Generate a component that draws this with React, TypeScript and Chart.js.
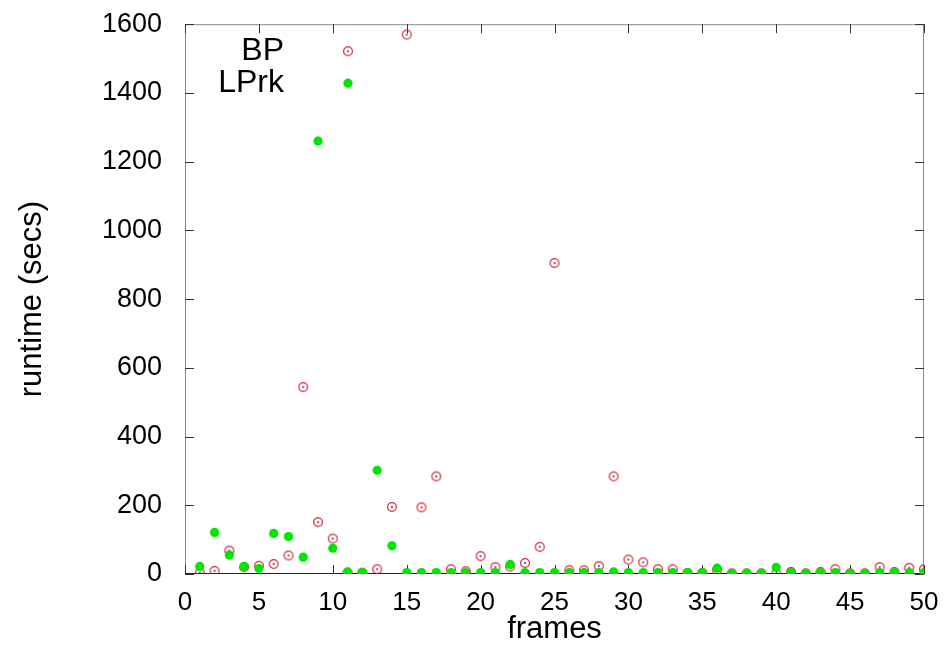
import React, { useEffect, useRef } from "react";
import { Chart, registerables } from "chart.js";

Chart.register(...registerables);

const frames: number[] = [
  1, 2, 3, 4, 5, 6, 7, 8, 9, 10, 11, 12, 13, 14, 15, 16, 17, 18, 19, 20, 21, 22, 23, 24, 25,
  26, 27, 28, 29, 30, 31, 32, 33, 34, 35, 36, 37, 38, 39, 40, 41, 42, 43, 44, 45, 46, 47, 48, 49, 50,
];

const bpRuntime: number[] = [
  4, 9, 68, 20, 24, 29, 54, 544, 151, 103, 4, 4, 14, 195, 1570, 194, 284, 14, 8, 52, 20, 22, 32, 79, 905,
  11, 11, 23, 284, 42, 34, 14, 14, 3, 3, 12, 2, 1, 2, 1, 6, 2, 6, 14, 2, 2, 20, 6, 18, 14,
];

const lprkRuntime: number[] = [
  22, 121, 55, 22, 16, 118, 109, 49, 1260, 75, 6, 4, 302, 82, 4, 4, 4, 4, 4, 4, 4, 28, 4, 4, 4,
  4, 4, 4, 6, 4, 4, 4, 4, 4, 4, 17, 1, 3, 2, 19, 4, 2, 4, 4, 2, 2, 4, 4, 4, 4,
];

const xTicks: number[] = [0, 5, 10, 15, 20, 25, 30, 35, 40, 45, 50];
const yTicks: number[] = [0, 200, 400, 600, 800, 1000, 1200, 1400, 1600];

const seriesNames: string[] = ["BP", "LPrk"];

const RED = "rgb(218,36,58)";
const GREEN = "rgb(0,230,0)";
const FONT = "'Liberation Sans', Arial, Helvetica, sans-serif";

function makeCircleDot(): HTMLCanvasElement {
  const c = document.createElement("canvas");
  c.width = 12;
  c.height = 12;
  const g = c.getContext("2d")!;
  g.strokeStyle = RED;
  g.lineWidth = 1.2;
  g.beginPath();
  g.arc(6, 6, 4.4, 0, Math.PI * 2);
  g.stroke();
  g.fillStyle = "rgb(120,15,25)";
  g.beginPath();
  g.arc(6, 6, 0.9, 0, Math.PI * 2);
  g.fill();
  return c;
}

export default function App() {
  const ref = useRef<HTMLCanvasElement | null>(null);

  useEffect(() => {
    if (!ref.current) return;
    const circleDot = makeCircleDot();

    const framePlugin = {
      id: "gnuplotFrame",
      beforeDatasetsDraw(chart: any) {
        const { ctx, chartArea } = chart;
        const { left, right, top, bottom } = chartArea;
        const xs = chart.scales.x;
        const ys = chart.scales.y;
        ctx.save();
        ctx.lineWidth = 1;
        ctx.strokeStyle = "#8a8a8a";
        ctx.beginPath();
        ctx.moveTo(left + 0.5, bottom);
        ctx.lineTo(left + 0.5, top + 0.5);
        ctx.lineTo(right - 0.5, top + 0.5);
        ctx.lineTo(right - 0.5, bottom);
        ctx.stroke();
        ctx.strokeStyle = "#222";
        ctx.beginPath();
        ctx.moveTo(left, bottom - 0.5);
        ctx.lineTo(right, bottom - 0.5);
        ctx.stroke();
        const tl = 9;
        ctx.strokeStyle = "#333";
        ctx.beginPath();
        xTicks.forEach((v) => {
          const px = Math.round(xs.getPixelForValue(v)) + 0.5;
          ctx.moveTo(px, bottom);
          ctx.lineTo(px, bottom - tl);
          ctx.moveTo(px, top);
          ctx.lineTo(px, top + tl);
        });
        yTicks.forEach((v) => {
          const py = Math.round(ys.getPixelForValue(v)) + 0.5;
          ctx.moveTo(left, py);
          ctx.lineTo(left + tl, py);
          ctx.moveTo(right, py);
          ctx.lineTo(right - tl, py);
        });
        ctx.stroke();
        ctx.restore();
      },
      afterDraw(chart: any) {
        const { ctx, chartArea } = chart;
        const { left, top } = chartArea;
        ctx.save();
        ctx.font = `32px ${FONT}`;
        ctx.fillStyle = "#000";
        ctx.textAlign = "right";
        ctx.textBaseline = "middle";
        const textX = left + 99;
        const symX = left + 163;
        const rows = [top + 27, top + 59];
        ctx.fillText(seriesNames[0], textX, rows[0]);
        ctx.fillText(seriesNames[1], textX, rows[1]);
        ctx.drawImage(circleDot, symX - 6, rows[0] - 6);
        ctx.fillStyle = GREEN;
        ctx.beginPath();
        ctx.arc(symX, rows[1], 4.6, 0, Math.PI * 2);
        ctx.fill();
        ctx.restore();
      },
    };

    const chart = new Chart(ref.current, {
      type: "scatter",
      data: {
        datasets: [
          {
            label: seriesNames[1],
            data: frames.map((f, i) => ({ x: f, y: lprkRuntime[i] })),
            pointStyle: "circle",
            pointRadius: 4.6,
            pointBackgroundColor: GREEN,
            pointBorderWidth: 0,
            borderColor: GREEN,
            backgroundColor: GREEN,
            order: 0,
          },
          {
            label: seriesNames[0],
            data: frames.map((f, i) => ({ x: f, y: bpRuntime[i] })),
            pointStyle: circleDot as any,
            pointRadius: 5,
            borderColor: RED,
            backgroundColor: RED,
            order: 1,
          },
        ],
      },
      options: {
        responsive: false,
        animation: false,
        layout: { padding: { top: 16, right: 18, left: 0, bottom: 0 } },
        plugins: {
          legend: { display: false },
          tooltip: { enabled: false },
        },
        scales: {
          x: {
            type: "linear",
            min: 0,
            max: 50,
            afterFit: (s: any) => {
              s.height = 86;
            },
            afterBuildTicks: (s: any) => {
              s.ticks = xTicks.map((v) => ({ value: v }));
            },
            grid: { display: false, drawTicks: true, tickLength: 13 },
            border: { display: false },
            ticks: {
              padding: 0,
              color: "#000",
              font: { family: FONT, size: 26 },
              maxRotation: 0,
              callback: (v: any) => String(v),
            },
            title: {
              display: true,
              text: "frames",
              color: "#000",
              font: { family: FONT, size: 31 },
              padding: { top: 0, bottom: 12 },
            },
          },
          y: {
            type: "linear",
            min: 0,
            max: 1600,
            afterFit: (s: any) => {
              s.width = 177;
            },
            afterBuildTicks: (s: any) => {
              s.ticks = yTicks.map((v) => ({ value: v }));
            },
            grid: { display: false, drawTicks: true, tickLength: 23 },
            border: { display: false },
            ticks: {
              padding: 0,
              color: "#000",
              font: { family: FONT, size: 27 },
              callback: (v: any) => String(v),
            },
            title: {
              display: true,
              text: "runtime (secs)",
              color: "#000",
              font: { family: FONT, size: 31 },
              padding: { top: 6, bottom: 0 },
            },
          },
        },
      },
      plugins: [framePlugin],
    });

    return () => chart.destroy();
  }, []);

  return (
    <div style={{ width: 934, height: 652 }}>
      <canvas ref={ref} width={934} height={652} />
    </div>
  );
}
